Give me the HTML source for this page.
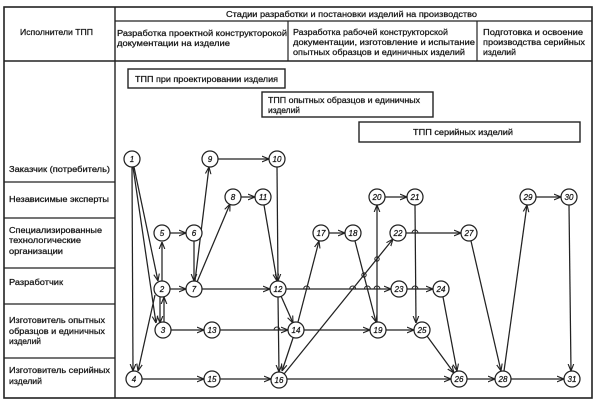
<!DOCTYPE html>
<html><head><meta charset="utf-8"><style>
html,body{margin:0;padding:0;background:#fff;}
svg{display:block;}
text{font-family:"Liberation Sans","DejaVu Sans",sans-serif;fill:#151515;stroke:#151515;stroke-width:0.25px;}
.t{font-size:8.4px;}
.n{font-size:8px;font-style:italic;text-anchor:middle;}
</style></head><body>
<svg width="604" height="409" viewBox="0 0 604 409" xmlns="http://www.w3.org/2000/svg">
<defs>
<marker id="a" viewBox="0 0 10 10" refX="10" refY="5" markerWidth="7" markerHeight="7" markerUnits="userSpaceOnUse" orient="auto">
<path d="M0,1 L10,5 L0,9" fill="none" stroke="#222" stroke-width="1.6"/>
</marker>
</defs>
<rect width="604" height="409" fill="#fff"/>
<!-- frame -->
<g stroke="#222" fill="none">
<rect x="4" y="7" width="588" height="391" stroke-width="1.6"/>
<line x1="115" y1="7" x2="115" y2="398" stroke-width="1.4"/>
<line x1="115" y1="21" x2="592" y2="21" stroke-width="1.2"/>
<line x1="4" y1="61" x2="592" y2="61" stroke-width="1.4"/>
<line x1="288" y1="21" x2="288" y2="61" stroke-width="1.2"/>
<line x1="477" y1="21" x2="477" y2="61" stroke-width="1.2"/>
<line x1="4" y1="182" x2="115" y2="182" stroke-width="1.2"/>
<line x1="4" y1="218" x2="115" y2="218" stroke-width="1.2"/>
<line x1="4" y1="268" x2="115" y2="268" stroke-width="1.2"/>
<line x1="4" y1="304" x2="115" y2="304" stroke-width="1.2"/>
<line x1="4" y1="358" x2="115" y2="358" stroke-width="1.2"/>
<rect x="128" y="69" width="157" height="19" stroke-width="1.4"/>
<rect x="262" y="92" width="171" height="25" stroke-width="1.4"/>
<rect x="359" y="122" width="221" height="20" stroke-width="1.4"/>
</g>
<!-- header text -->
<text class="t" x="20" y="35" textLength="73" lengthAdjust="spacingAndGlyphs">Исполнители ТПП</text>
<text class="t" x="226" y="17" textLength="251" lengthAdjust="spacingAndGlyphs">Стадии разработки и постановки изделий на производство</text>
<text class="t" x="117" y="36" textLength="170" lengthAdjust="spacingAndGlyphs">Разработка проектной конструкторокой</text>
<text class="t" x="117" y="46" textLength="113" lengthAdjust="spacingAndGlyphs">документации на изделие</text>
<text class="t" x="293" y="35" textLength="155" lengthAdjust="spacingAndGlyphs">Разработка рабочей конструкторской</text>
<text class="t" x="293" y="45" textLength="182" lengthAdjust="spacingAndGlyphs">документации, изготовление и испытание</text>
<text class="t" x="293" y="55" textLength="172" lengthAdjust="spacingAndGlyphs">опытных образцов и единичных изделий</text>
<text class="t" x="483" y="35" textLength="100" lengthAdjust="spacingAndGlyphs">Подготовка и освоение</text>
<text class="t" x="483" y="45" textLength="102" lengthAdjust="spacingAndGlyphs">производства серийных</text>
<text class="t" x="483" y="55" textLength="33" lengthAdjust="spacingAndGlyphs">изделий</text>
<text class="t" x="135" y="82" textLength="143" lengthAdjust="spacingAndGlyphs">ТПП при проектировании изделия</text>
<text class="t" x="268" y="103" textLength="152" lengthAdjust="spacingAndGlyphs">ТПП опытных образцов и единичных</text>
<text class="t" x="268" y="113" textLength="32" lengthAdjust="spacingAndGlyphs">изделий</text>
<text class="t" x="413" y="135" textLength="100" lengthAdjust="spacingAndGlyphs">ТПП серийных изделий</text>
<!-- left column -->
<text class="t" x="9" y="172" textLength="101" lengthAdjust="spacingAndGlyphs">Заказчик (потребитель)</text>
<text class="t" x="9" y="202" textLength="100" lengthAdjust="spacingAndGlyphs">Независимые эксперты</text>
<text class="t" x="9" y="233" textLength="93" lengthAdjust="spacingAndGlyphs">Специализированные</text>
<text class="t" x="9" y="243" textLength="72" lengthAdjust="spacingAndGlyphs">технологические</text>
<text class="t" x="9" y="254" textLength="54" lengthAdjust="spacingAndGlyphs">организации</text>
<text class="t" x="9" y="285" textLength="54" lengthAdjust="spacingAndGlyphs">Разработчик</text>
<text class="t" x="9" y="323" textLength="96" lengthAdjust="spacingAndGlyphs">Изготовитель опытных</text>
<text class="t" x="9" y="334" textLength="96" lengthAdjust="spacingAndGlyphs">образцов и единичных</text>
<text class="t" x="9" y="344" textLength="32" lengthAdjust="spacingAndGlyphs">изделий</text>
<text class="t" x="9" y="373" textLength="101" lengthAdjust="spacingAndGlyphs">Изготовитель серийных</text>
<text class="t" x="9" y="384" textLength="33" lengthAdjust="spacingAndGlyphs">изделий</text>
<!-- edges -->
<g stroke="#222" stroke-width="1.25" fill="none" marker-end="url(#a)">
<line x1="132" y1="167" x2="133" y2="371"/>
<line x1="134" y1="167" x2="158" y2="281"/>
<line x1="133" y1="167" x2="156" y2="323"/>
<line x1="155" y1="295" x2="138" y2="371"/>
<line x1="162" y1="281" x2="162" y2="242"/>
<line x1="160" y1="297" x2="160" y2="323"/>
<line x1="164" y1="322" x2="164" y2="297"/>
<line x1="170" y1="233" x2="186" y2="233"/>
<line x1="194" y1="241" x2="194" y2="281"/>
<line x1="170" y1="289" x2="186" y2="289"/>
<line x1="195" y1="281" x2="209" y2="167"/>
<line x1="197" y1="282" x2="230" y2="204"/>
<line x1="218" y1="159" x2="269" y2="159"/>
<line x1="241" y1="197" x2="255" y2="197"/>
<line x1="277" y1="167" x2="278" y2="281"/>
<line x1="264" y1="205" x2="277" y2="281"/>
<line x1="202" y1="289" x2="270" y2="289"/>
<line x1="171" y1="330" x2="204" y2="330"/>
<line x1="220" y1="330" x2="288" y2="330"/>
<line x1="142" y1="379" x2="204" y2="379"/>
<line x1="220" y1="379" x2="271" y2="379"/>
<line x1="281" y1="296" x2="293" y2="323"/>
<line x1="278" y1="297" x2="279" y2="372"/>
<line x1="293" y1="338" x2="282" y2="371"/>
<line x1="298" y1="322" x2="319" y2="241"/>
<line x1="329" y1="233" x2="345" y2="233"/>
<line x1="355" y1="241" x2="376" y2="322"/>
<line x1="284" y1="374" x2="393" y2="239"/>
<line x1="377" y1="322" x2="377" y2="205"/>
<line x1="385" y1="197" x2="407" y2="197"/>
<line x1="415" y1="205" x2="416" y2="323"/>
<line x1="406" y1="233" x2="461" y2="233"/>
<line x1="286" y1="289" x2="391" y2="289"/>
<line x1="407" y1="289" x2="433" y2="289"/>
<line x1="304" y1="330" x2="370" y2="330"/>
<line x1="386" y1="330" x2="414" y2="330"/>
<line x1="443" y1="297" x2="457" y2="371"/>
<line x1="427" y1="336" x2="454" y2="373"/>
<line x1="287" y1="379" x2="451" y2="379"/>
<line x1="467" y1="379" x2="495" y2="379"/>
<line x1="471" y1="241" x2="501" y2="371"/>
<line x1="504" y1="371" x2="527" y2="205"/>
<line x1="536" y1="197" x2="561" y2="197"/>
<line x1="569" y1="205" x2="571" y2="371"/>
<line x1="511" y1="379" x2="564" y2="379"/>
</g>
<!-- crossing bridges -->
<g stroke="#222" stroke-width="1" fill="none">
<path d="M274,330 A3,3 0 0 1 280,330"/>
<path d="M303.6,289 A3,3 0 0 1 309.6,289"/>
<path d="M349.7,289 A3,3 0 0 1 355.7,289"/>
<path d="M364.4,289 A3,3 0 0 1 370.4,289"/>
<path d="M374,289 A3,3 0 0 1 380,289"/>
<path d="M412,289 A3,3 0 0 1 418,289"/>
<path d="M412,233 A3,3 0 0 1 418,233"/>
<circle cx="364" cy="275" r="2.2"/>
<circle cx="377" cy="259" r="2.2"/>
</g>
<!-- nodes -->
<g stroke="#222" stroke-width="1.25" fill="#fff">
<circle cx="132" cy="159" r="8"/><circle cx="162" cy="289" r="8"/><circle cx="163" cy="330" r="8"/>
<circle cx="134" cy="379" r="8"/><circle cx="162" cy="233" r="8"/><circle cx="194" cy="233" r="8"/>
<circle cx="194" cy="289" r="8"/><circle cx="233" cy="197" r="8"/><circle cx="210" cy="159" r="8"/>
<circle cx="277" cy="159" r="8"/><circle cx="263" cy="197" r="8"/><circle cx="278" cy="289" r="8"/>
<circle cx="212" cy="330" r="8"/><circle cx="296" cy="330" r="8"/><circle cx="212" cy="379" r="8"/>
<circle cx="279" cy="380" r="8"/><circle cx="321" cy="233" r="8"/><circle cx="353" cy="233" r="8"/>
<circle cx="378" cy="330" r="8"/><circle cx="377" cy="197" r="8"/><circle cx="415" cy="197" r="8"/>
<circle cx="398" cy="233" r="8"/><circle cx="399" cy="289" r="8"/><circle cx="441" cy="289" r="8"/>
<circle cx="422" cy="330" r="8"/><circle cx="459" cy="379" r="8"/><circle cx="469" cy="233" r="8"/>
<circle cx="503" cy="379" r="8"/><circle cx="528" cy="197" r="8"/><circle cx="569" cy="197" r="8"/>
<circle cx="572" cy="379" r="8"/>
</g>
<g class="n">
<text class="n" x="132" y="162">1</text><text class="n" x="162" y="292">2</text><text class="n" x="163" y="333">3</text>
<text class="n" x="134" y="382">4</text><text class="n" x="162" y="236">5</text><text class="n" x="194" y="236">6</text>
<text class="n" x="194" y="292">7</text><text class="n" x="233" y="200">8</text><text class="n" x="210" y="162">9</text>
<text class="n" x="277" y="162">10</text><text class="n" x="263" y="200">11</text><text class="n" x="278" y="292">12</text>
<text class="n" x="212" y="333">13</text><text class="n" x="296" y="333">14</text><text class="n" x="212" y="382">15</text>
<text class="n" x="279" y="383">16</text><text class="n" x="321" y="236">17</text><text class="n" x="353" y="236">18</text>
<text class="n" x="378" y="333">19</text><text class="n" x="377" y="200">20</text><text class="n" x="415" y="200">21</text>
<text class="n" x="398" y="236">22</text><text class="n" x="399" y="292">23</text><text class="n" x="441" y="292">24</text>
<text class="n" x="422" y="333">25</text><text class="n" x="459" y="382">26</text><text class="n" x="469" y="236">27</text>
<text class="n" x="503" y="382">28</text><text class="n" x="528" y="200">29</text><text class="n" x="569" y="200">30</text>
<text class="n" x="572" y="382">31</text>
</g>
</svg>
</body></html>
